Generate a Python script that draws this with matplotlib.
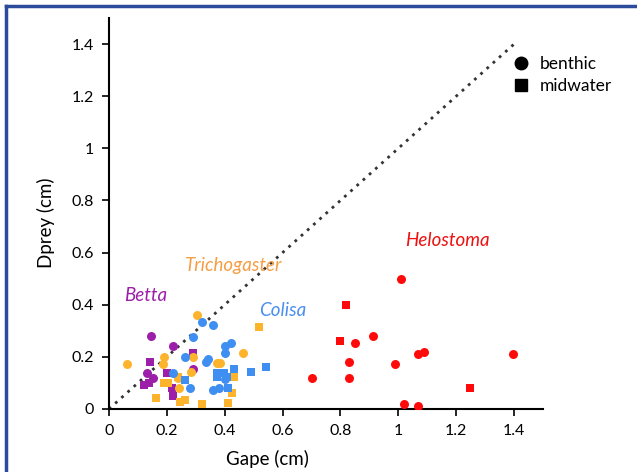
import matplotlib
matplotlib.use('Agg')
import matplotlib.pyplot as plt
from matplotlib.lines import Line2D
from matplotlib.ticker import FuncFormatter

# adatok (Gape, Dprey) cm
betta_ben_x = [0.144, 0.222, 0.130, 0.153, 0.291]
betta_ben_y = [0.281, 0.240, 0.139, 0.118, 0.152]
betta_mid_x = [0.142, 0.122, 0.138, 0.199, 0.217, 0.222, 0.291]
betta_mid_y = [0.181, 0.092, 0.100, 0.139, 0.079, 0.051, 0.214]

trich_ben_x = [0.303, 0.063, 0.190, 0.185, 0.291, 0.282, 0.240, 0.242, 0.372, 0.384, 0.463]
trich_ben_y = [0.360, 0.173, 0.200, 0.173, 0.200, 0.143, 0.118, 0.079, 0.175, 0.175, 0.214]
trich_mid_x = [0.519, 0.161, 0.191, 0.204, 0.237, 0.245, 0.262, 0.320, 0.410, 0.424, 0.433]
trich_mid_y = [0.313, 0.041, 0.100, 0.100, 0.121, 0.028, 0.035, 0.019, 0.022, 0.060, 0.121]

colisa_ben_x = [0.320, 0.361, 0.291, 0.401, 0.422, 0.401, 0.263, 0.343, 0.334, 0.280, 0.361, 0.380, 0.401, 0.222]
colisa_ben_y = [0.335, 0.322, 0.275, 0.242, 0.252, 0.214, 0.200, 0.190, 0.180, 0.079, 0.073, 0.079, 0.114, 0.137]
colisa_mid_x = [0.372, 0.372, 0.399, 0.407, 0.433, 0.410, 0.491, 0.542, 0.263]
colisa_mid_y = [0.139, 0.121, 0.139, 0.121, 0.152, 0.079, 0.141, 0.160, 0.111]

helo_ben_x = [1.008, 0.850, 0.911, 1.069, 1.089, 0.989, 0.831, 0.831, 0.700, 1.398, 1.020, 1.069]
helo_ben_y = [0.500, 0.252, 0.280, 0.211, 0.220, 0.171, 0.181, 0.120, 0.120, 0.212, 0.019, 0.011]
helo_mid_x = [0.819, 0.800, 1.248]
helo_mid_y = [0.400, 0.260, 0.079]

ticks = [0, 0.2, 0.4, 0.6, 0.8, 1, 1.2, 1.4]

# szinek
c_betta = '#9b1fa8'
c_trich = '#fdb42c'
c_colisa = '#3f8ff2'
c_helo = '#ff0a0a'

plt.rcParams['font.family'] = ['Lato', 'DejaVu Sans']

fig = plt.figure(figsize=(6.37, 4.72), dpi=100)
ax = fig.add_axes([109/637, 63/472, 434/637, 391/472])

ax.plot([0, 1.4], [0, 1.4], color='#333333', linestyle=(0, (1, 2)), linewidth=2, zorder=1)

s_c = 42
s_s = 34
groups = [
    (betta_ben_x, betta_ben_y, betta_mid_x, betta_mid_y, c_betta),
    (trich_ben_x, trich_ben_y, trich_mid_x, trich_mid_y, c_trich),
    (colisa_ben_x, colisa_ben_y, colisa_mid_x, colisa_mid_y, c_colisa),
    (helo_ben_x, helo_ben_y, helo_mid_x, helo_mid_y, c_helo),
]
for bx, by, mx, my, c in groups:
    ax.scatter(bx, by, s=s_c, marker='o', color=c, linewidths=0, zorder=3)
    ax.scatter(mx, my, s=s_s, marker='s', color=c, linewidths=0, zorder=3)

# fajnevek
ax.text(0.128, 0.434, 'Betta', color=c_betta, style='italic', fontsize=13.5, ha='center', va='center')
ax.text(0.43, 0.55, 'Trichogaster', color='#f59e45', style='italic', fontsize=13.5, ha='center', va='center')
ax.text(0.60, 0.376, 'Colisa', color='#4a8ef0', style='italic', fontsize=13.5, ha='center', va='center')
ax.text(1.17, 0.645, 'Helostoma', color='#ee1111', style='italic', fontsize=13.5, ha='center', va='center')

# jelmagyarazat
handles = [Line2D([], [], marker='o', color='black', linestyle='none', markersize=9, label='benthic'),
           Line2D([], [], marker='s', color='black', linestyle='none', markersize=8, label='midwater')]
ax.legend(handles=handles, loc='upper left', bbox_to_anchor=(0.905, 0.925), frameon=False,
          fontsize=12.5, handletextpad=0.5, labelspacing=0.35, borderpad=0, handlelength=1.2)

ax.set_xlim(0, 1.5)
ax.set_ylim(0, 1.5)
ax.set_xticks(ticks)
ax.set_yticks(ticks)
fmt = FuncFormatter(lambda v, p: '%g' % v)
ax.xaxis.set_major_formatter(fmt)
ax.yaxis.set_major_formatter(fmt)
ax.tick_params(direction='out', length=5, width=1.2, labelsize=11.5, colors='black', pad=6)
for side in ['top', 'right']:
    ax.spines[side].set_visible(False)
for side in ['left', 'bottom']:
    ax.spines[side].set_linewidth(1.5)

ax.set_xlabel('Gape (cm)', fontsize=13.5)
ax.set_ylabel('Dprey (cm)', fontsize=13.5)
ax.xaxis.set_label_coords(0.364, -0.105)
ax.yaxis.set_label_coords(-0.125, 0.476)

# kek keret
fig.add_artist(Line2D([6/637, 6/637], [0, 1 - 6/472], transform=fig.transFigure, color='#2d4b9b', linewidth=2.5))
fig.add_artist(Line2D([6/637, 1], [1 - 6/472, 1 - 6/472], transform=fig.transFigure, color='#2d4b9b', linewidth=2.5))

plt.savefig('out.png', dpi=100)
